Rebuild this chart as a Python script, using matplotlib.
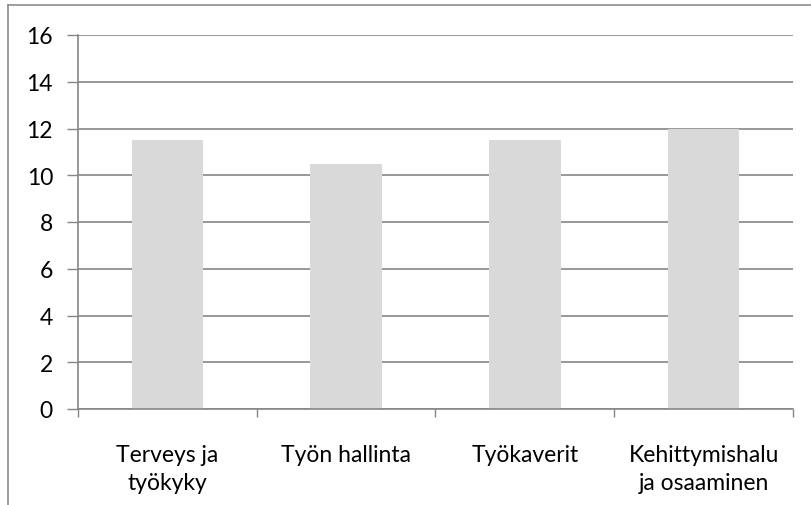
import matplotlib.pyplot as plt
from matplotlib.lines import Line2D

categories = ['Terveys ja\ntyökyky', 'Työn hallinta', 'Työkaverit', 'Kehittymishalu\nja osaaminen']
values = [11.5, 10.5, 11.5, 12]
yticks = [0, 2, 4, 6, 8, 10, 12, 14, 16]

plt.rcParams['font.family'] = ['Lato', 'DejaVu Sans']
grey = '#868686'

fig = plt.figure(figsize=(8.11, 5.06), dpi=100)
ax = fig.add_axes([78 / 811, 1 - 410 / 506, (793 - 78) / 811, (410 - 36) / 506])

x = range(len(categories))
ax.bar(x, values, width=0.4, color='#d9d9d9', zorder=2)

ax.set_xlim(-0.5, len(categories) - 0.5)
ax.set_ylim(0, 16)
ax.set_yticks(yticks)
ax.set_xticks(list(x))
ax.set_xticklabels(categories, fontsize=16.5, linespacing=1.4)
ax.tick_params(axis='x', length=0, pad=25)
ax.set_xticks([i - 0.5 for i in range(len(categories) + 1)], minor=True)
ax.tick_params(axis='x', which='minor', length=6, color=grey, width=1)
ax.tick_params(axis='y', length=8, color=grey, width=1, labelsize=16.5, pad=10)
ax.grid(axis='y', color=grey, linewidth=1.2, zorder=0)
for s in ['top', 'right']:
    ax.spines[s].set_visible(False)
for s in ['left', 'bottom']:
    ax.spines[s].set_color(grey)
    ax.spines[s].set_linewidth(1.2)

# outer chart frame (only top and left edges visible)
fig.add_artist(Line2D([8 / 811, 8 / 811], [0, 1 - 6 / 506], color='#8c8c8c', lw=1.2, transform=fig.transFigure))
fig.add_artist(Line2D([8 / 811, 1], [1 - 6 / 506, 1 - 6 / 506], color='#8c8c8c', lw=1.2, transform=fig.transFigure))

fig.savefig('out.png', dpi=100)
